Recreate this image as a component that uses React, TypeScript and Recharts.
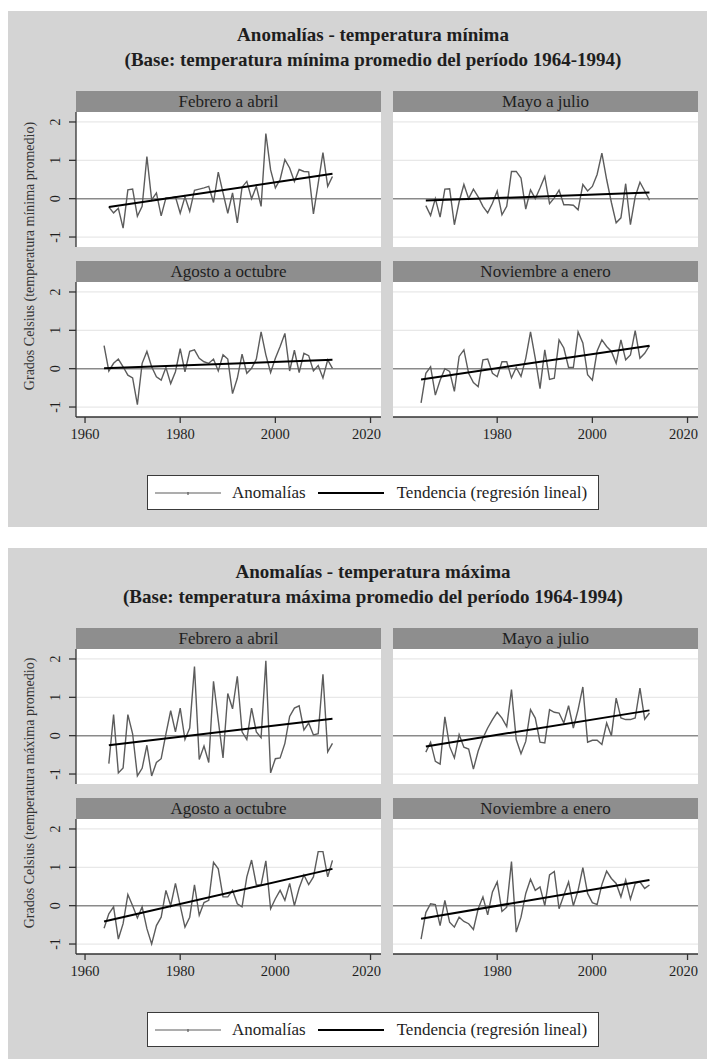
import type { ReactElement } from "react";
import { Line, LineChart, ReferenceLine, XAxis, YAxis } from "recharts";

const FONT = '"Liberation Serif", "DejaVu Serif", serif';

const YEARS = [
  1964, 1965, 1966, 1967, 1968, 1969, 1970, 1971, 1972, 1973, 1974, 1975,
  1976, 1977, 1978, 1979, 1980, 1981, 1982, 1983, 1984, 1985, 1986, 1987,
  1988, 1989, 1990, 1991, 1992, 1993, 1994, 1995, 1996, 1997, 1998, 1999,
  2000, 2001, 2002, 2003, 2004, 2005, 2006, 2007, 2008, 2009, 2010, 2011,
  2012,
];

const X_TICKS = [1960, 1980, 2000, 2020];
const Y_TICKS = [-1, 0, 1, 2];
const GRID_VALUES = [-1, 1, 2];

const PANEL_TITLES = [
  "Febrero a abril",
  "Mayo a julio",
  "Agosto a octubre",
  "Noviembre a enero",
];

const FIG_TITLES = [
  [
    "Anomalías - temperatura mínima",
    "(Base: temperatura mínima promedio del período 1964-1994)",
  ],
  [
    "Anomalías - temperatura máxima",
    "(Base: temperatura máxima promedio del período 1964-1994)",
  ],
];

const Y_TITLES = [
  "Grados Celsius (temperatura mínima promedio)",
  "Grados Celsius (temperatura máxima promedio)",
];

// mínima — Feb-Abr and May-Jul start in 1965, the other two in 1964
const MIN_FEB_ABR = [
  -0.22, -0.37, -0.25, -0.77, 0.23, 0.25, -0.46, -0.2, 1.1, -0.03, 0.15, -0.45,
  0.02, 0.02, 0.05, -0.38, 0.05, -0.33, 0.22, 0.25, 0.28, 0.32, -0.1, 0.69,
  0.15, -0.38, 0.15, -0.63, 0.3, 0.45, 0.0, 0.32, -0.2, 1.7, 0.75, 0.28, 0.5,
  1.02, 0.8, 0.45, 0.76, 0.71, 0.7, -0.4, 0.4, 1.2, 0.32, 0.58,
];
const MIN_MAY_JUL = [
  -0.18, -0.44, 0.0, -0.48, 0.25, 0.26, -0.68, -0.08, 0.37, 0.0, 0.25, 0.05,
  -0.2, -0.37, -0.12, 0.2, -0.42, -0.2, 0.71, 0.71, 0.54, -0.27, 0.23, 0.0,
  0.28, 0.58, -0.13, 0.02, 0.22, -0.16, -0.16, -0.17, -0.29, 0.37, 0.2, 0.32,
  0.63, 1.19, 0.5, -0.1, -0.63, -0.5, 0.39, -0.68, 0.05, 0.43, 0.2, -0.04,
];
const MIN_AGO_OCT = [
  0.6, -0.06, 0.14, 0.25, 0.05, -0.17, -0.24, -0.94, 0.14, 0.45, 0.05, -0.21,
  -0.3, 0.03, -0.39, -0.08, 0.52, -0.08, 0.45, 0.49, 0.27, 0.18, 0.14, 0.25,
  -0.06, 0.36, 0.25, -0.65, -0.25, 0.38, -0.12, 0.01, 0.25, 0.96, 0.36, -0.1,
  0.27, 0.58, 0.92, -0.06, 0.48, -0.1, 0.4, 0.34, -0.06, 0.08, -0.24, 0.23,
  0.01,
];
const MIN_NOV_ENE = [
  -0.89, -0.12, 0.05, -0.69, -0.3, 0.0, -0.07, -0.59, 0.32, 0.49, -0.12, -0.36,
  -0.47, 0.23, 0.25, -0.12, -0.21, 0.18, 0.18, -0.24, 0.03, -0.2, 0.27, 0.96,
  0.27, -0.52, 0.49, -0.28, -0.25, 0.75, 0.54, 0.03, 0.03, 0.96, 0.67, -0.16,
  -0.3, 0.46, 0.75, 0.58, 0.45, 0.14, 0.75, 0.23, 0.36, 0.99, 0.27, 0.4, 0.6,
];

// máxima
const MAX_FEB_ABR = [
  -0.73, 0.55, -0.97, -0.84, 0.55, 0.05, -1.05, -0.85, -0.25, -1.05, -0.7, -0.6,
  0.05, 0.65, 0.1, 0.72, -0.1, 0.2, 1.8, -0.62, -0.27, -0.7, 1.42, 0.4, -0.58,
  1.1, 0.7, 1.55, 0.1, -0.1, 0.72, 0.1, -0.05, 1.95, -0.97, -0.6, -0.58, -0.2,
  0.5, 0.72, 0.78, 0.15, 0.33, 0.02, 0.05, 1.6, -0.42, -0.2,
];
const MAX_MAY_JUL = [
  -0.43, -0.17, -0.67, -0.74, 0.49, -0.28, -0.58, 0.03, -0.3, -0.35, -0.87,
  -0.4, -0.06, 0.2, 0.42, 0.61, 0.46, 0.24, 1.2, -0.1, -0.47, -0.15, 0.68,
  0.46, -0.17, -0.19, 0.68, 0.61, 0.59, 0.33, 0.78, 0.2, 0.68, 1.27, -0.17,
  -0.12, -0.12, -0.23, 0.33, 0.0, 0.98, 0.46, 0.42, 0.42, 0.46, 1.24, 0.43,
  0.59,
];
const MAX_AGO_OCT = [
  -0.59, -0.21, -0.03, -0.87, -0.47, 0.29, 0.0, -0.32, -0.03, -0.6, -1.0,
  -0.52, -0.3, 0.4, 0.0, 0.58, 0.0, -0.56, -0.3, 0.54, -0.25, 0.08, 0.14, 1.13,
  0.96, 0.23, 0.23, 0.4, 0.05, -0.03, 0.75, 1.19, 0.54, 0.54, 1.17, -0.08,
  0.18, 0.4, 0.14, 0.58, 0.0, 0.46, 0.8, 0.55, 0.75, 1.41, 1.41, 0.75, 1.18,
];
const MAX_NOV_ENE = [
  -0.87, -0.18, 0.05, 0.03, -0.52, 0.14, -0.43, -0.56, -0.3, -0.41, -0.47,
  -0.62, -0.08, 0.23, -0.24, 0.36, 0.62, -0.15, -0.04, 1.15, -0.69, -0.3, 0.32,
  0.69, 0.4, 0.49, 0.0, 0.8, 0.89, -0.08, 0.27, 0.62, 0.0, 0.4, 0.99, 0.32,
  0.08, 0.03, 0.55, 0.9, 0.71, 0.58, 0.23, 0.67, 0.17, 0.58, 0.62, 0.45, 0.54,
];

// fitted trend, start and end value
const MIN_TRENDS = [
  [-0.22, 0.65],
  [-0.05, 0.16],
  [0.01, 0.23],
  [-0.28, 0.6],
];
const MAX_TRENDS = [
  [-0.25, 0.44],
  [-0.28, 0.66],
  [-0.41, 0.96],
  [-0.34, 0.67],
];

const MIN_SERIES = [MIN_FEB_ABR, MIN_MAY_JUL, MIN_AGO_OCT, MIN_NOV_ENE];
const MAX_SERIES = [MAX_FEB_ABR, MAX_MAY_JUL, MAX_AGO_OCT, MAX_NOV_ENE];

const BG = "#d4d4d4";
const STRIP = "#8e8e8e";
const INK = "#1e1e1e";

const PLOT_W = 305;
const PLOT_H = 135;
const HEADER_H = 21;
const Y_AXIS_W = 30;
const X_AXIS_H = 30;
const COL_X = [76, 393];
const ROW_Y = [91, 261];
const FIG_OFFSETS = [0, 537];

type Point = { year: number; v: number };

function toPoints(values: number[]): Point[] {
  const years = YEARS.slice(YEARS.length - values.length);
  return values.map((v, i) => ({ year: years[i], v }));
}

function YTick(props: any): ReactElement {
  const cx = Y_AXIS_W - 21;
  const { y, payload } = props;
  return (
    <text
      x={cx}
      y={y}
      transform={`rotate(-90 ${cx} ${y})`}
      textAnchor="middle"
      dy="0.35em"
      fontSize={14}
      fill={INK}
      fontFamily={FONT}
    >
      {payload.value}
    </text>
  );
}

type PanelProps = {
  title: string;
  values: number[];
  trend: number[];
  left: number;
  top: number;
  showX: boolean;
  showY: boolean;
};

function Panel({ title, values, trend, left, top, showX, showY }: PanelProps) {
  const points = toPoints(values);
  const trendPoints = [
    { year: points[0].year, v: trend[0] },
    { year: points[points.length - 1].year, v: trend[1] },
  ];
  const chartLeft = left - (showY ? Y_AXIS_W : 0);
  const plotTop = top + HEADER_H;

  return (
    <>
      <div
        style={{
          position: "absolute",
          left,
          top,
          width: PLOT_W,
          height: HEADER_H,
          lineHeight: `${HEADER_H}px`,
          background: STRIP,
          color: INK,
          fontSize: 17,
          textAlign: "center",
        }}
      >
        {title}
      </div>
      <div
        style={{
          position: "absolute",
          left,
          top: plotTop,
          width: PLOT_W,
          height: PLOT_H,
          background: "#ffffff",
        }}
      />
      <div style={{ position: "absolute", left: chartLeft, top: plotTop }}>
        <LineChart
          width={PLOT_W + (showY ? Y_AXIS_W : 0)}
          height={PLOT_H + (showX ? X_AXIS_H : 0)}
          margin={{ top: 0, right: 0, bottom: 0, left: 0 }}
        >
          <XAxis
            dataKey="year"
            type="number"
            domain={[1958.1, 2022.2]}
            ticks={X_TICKS}
            allowDataOverflow
            hide={!showX}
            height={X_AXIS_H}
            tickSize={6}
            tickMargin={6}
            axisLine={{ stroke: "#333", strokeWidth: 1.3 }}
            tickLine={{ stroke: "#333", strokeWidth: 1.3 }}
            tick={{ fontSize: 14.5, fill: INK, fontFamily: FONT }}
          />
          <YAxis
            type="number"
            domain={[-1.26, 2.26]}
            ticks={Y_TICKS}
            allowDataOverflow
            hide={!showY}
            width={Y_AXIS_W}
            tickSize={7}
            axisLine={{ stroke: "#333", strokeWidth: 1.3 }}
            tickLine={{ stroke: "#333", strokeWidth: 1.3 }}
            tick={YTick}
          />
          {GRID_VALUES.map((v) => (
            <ReferenceLine key={v} y={v} stroke="#e8e8e8" strokeWidth={1.2} />
          ))}
          <ReferenceLine y={0} stroke="#8a8a8a" strokeWidth={1.6} />
          <Line
            data={points}
            dataKey="v"
            stroke="#5c5c5c"
            strokeWidth={1.4}
            dot={false}
            activeDot={false}
            isAnimationActive={false}
          />
          <Line
            data={trendPoints}
            dataKey="v"
            stroke="#000000"
            strokeWidth={2}
            dot={false}
            activeDot={false}
            isAnimationActive={false}
          />
        </LineChart>
      </div>
    </>
  );
}

function LegendBox({ top }: { top: number }) {
  return (
    <div
      style={{
        position: "absolute",
        left: 147,
        top,
        width: 452,
        height: 35,
        boxSizing: "border-box",
        border: "1.5px solid #3a3a3a",
        background: "#ffffff",
        display: "flex",
        alignItems: "center",
        paddingLeft: 7,
        fontSize: 17,
        color: INK,
      }}
    >
      <svg width={66} height={10}>
        <line x1={0} y1={5} x2={66} y2={5} stroke="#5c5c5c" strokeWidth={1.2} />
        <line x1={33} y1={4} x2={33} y2={7} stroke="#5c5c5c" strokeWidth={1.2} />
      </svg>
      <span style={{ marginLeft: 11 }}>Anomalías</span>
      <svg width={66} height={10} style={{ marginLeft: 12 }}>
        <line x1={0} y1={5} x2={66} y2={5} stroke="#000" strokeWidth={2} />
      </svg>
      <span style={{ marginLeft: 13 }}>Tendencia (regresión lineal)</span>
    </div>
  );
}

function Figure({ index }: { index: number }) {
  const oy = FIG_OFFSETS[index];
  const series = index === 0 ? MIN_SERIES : MAX_SERIES;
  const trends = index === 0 ? MIN_TRENDS : MAX_TRENDS;
  const bgTop = 11 + oy;
  const bgBottom = index === 0 ? 527 : 1059;

  return (
    <>
      <div
        style={{
          position: "absolute",
          left: 8,
          top: bgTop,
          width: 699,
          height: bgBottom - bgTop,
          background: BG,
        }}
      />
      {FIG_TITLES[index].map((line, i) => (
        <div
          key={line}
          style={{
            position: "absolute",
            left: 0,
            width: 746,
            top: oy + 22 + i * 25,
            lineHeight: "25px",
            textAlign: "center",
            fontSize: 19,
            fontWeight: "bold",
            color: INK,
          }}
        >
          {line}
        </div>
      ))}
      <div
        style={{
          position: "absolute",
          left: 30 - 170,
          top: oy + 256 - 8,
          width: 340,
          height: 16,
          lineHeight: "16px",
          textAlign: "center",
          fontSize: 14,
          color: "#333",
          transform: "rotate(-90deg)",
        }}
      >
        {Y_TITLES[index]}
      </div>
      {PANEL_TITLES.map((title, i) => {
        const col = i % 2;
        const row = Math.floor(i / 2);
        return (
          <Panel
            key={title}
            title={title}
            values={series[i]}
            trend={trends[i]}
            left={COL_X[col]}
            top={ROW_Y[row] + oy}
            showX={row === 1}
            showY={col === 0}
          />
        );
      })}
      <LegendBox top={475 + oy} />
    </>
  );
}

export default function App(): ReactElement {
  return (
    <div
      style={{
        position: "absolute",
        left: 0,
        top: 0,
        width: 715,
        height: 1059,
        overflow: "hidden",
        background: "#ffffff",
        fontFamily: FONT,
      }}
    >
      <Figure index={0} />
      <Figure index={1} />
    </div>
  );
}
